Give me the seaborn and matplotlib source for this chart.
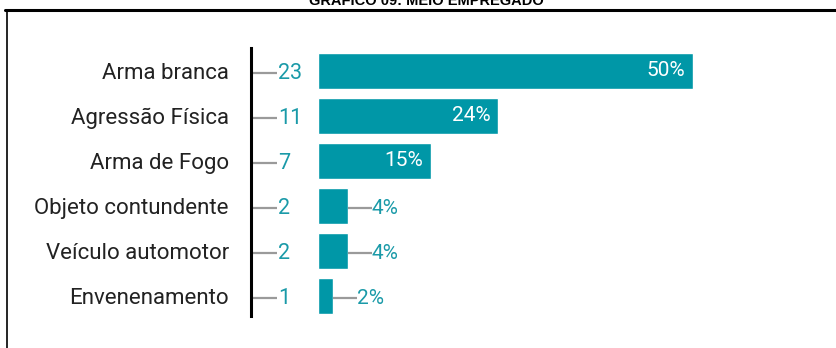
import matplotlib
matplotlib.use("Agg")
import matplotlib.pyplot as plt
from matplotlib import font_manager
from matplotlib.lines import Line2D
import seaborn as sns
import pandas as pd

categorias = ["Arma branca", "Agressão Física", "Arma de Fogo",
              "Objeto contundente", "Veículo automotor", "Envenenamento"]
quantidade = [23, 11, 7, 2, 2, 1]
percentual = [50, 24, 15, 4, 4, 2]
titulo = "GRÁFICO 09: MEIO EMPREGADO"

TEAL = "#0097A7"
TEAL_TXT = "#1A9AA8"
GREY = "#9A9A9A"

sns.set_theme(style="white")
plt.rcParams["font.family"] = ["Roboto", "DejaVu Sans"]

installed = {f.name for f in font_manager.fontManager.ttflist}
narrow = "Liberation Sans Narrow" in installed
title_family = "Liberation Sans Narrow" if narrow else "Liberation Sans"
title_size = 12.5 if narrow else 10.5

W, H = 836, 348
fig = plt.figure(figsize=(W / 100, H / 100), dpi=100)

# axes: left edge on the black axis line, bars start at x=0
px_per_unit = 7.5
ax_left_px, bar0_px = 251, 318
ax_top_px, ax_bot_px = 48, 316
ax = fig.add_axes([ax_left_px / W, 1 - ax_bot_px / H,
                   (W - ax_left_px) / W, (ax_bot_px - ax_top_px) / H])

df = pd.DataFrame({"categoria": categorias, "pct": percentual, "n": quantidade})
sns.barplot(data=df, y="categoria", x="pct", orient="h", color=TEAL,
            saturation=1, width=0.8, ax=ax)

xmin = -(bar0_px - ax_left_px) / px_per_unit
ax.set_xlim(xmin, xmin + (W - ax_left_px) / px_per_unit)
ax.set_ylim(5.45, -0.51)
ax.set_xlabel("")
ax.set_ylabel("")
ax.set_xticks([])
ax.set_yticks(range(len(categorias)))
ax.set_yticklabels(categorias, fontsize=16, color="#222222")
ax.tick_params(axis="y", length=0, pad=16)
for s in ["top", "right", "bottom"]:
    ax.spines[s].set_visible(False)
ax.spines["left"].set_color("black")
ax.spines["left"].set_linewidth(2.2)

tick_len = 26 / px_per_unit
for i, (n, p) in enumerate(zip(quantidade, percentual)):
    # connector from the axis line to the count
    ax.plot([xmin, xmin + tick_len], [i + 0.05, i + 0.05], color=GREY, lw=1.6,
            solid_capstyle="butt", clip_on=False)
    ax.text(xmin + tick_len + 0.1, i + 0.05, str(n), color=TEAL_TXT,
            fontsize=15.5, va="center", ha="left")
    if p >= 10:
        ax.text(p - 1.0, i, f"{p}%", color="white", fontsize=15,
                va="center", ha="right")
    else:
        lead = 24 / px_per_unit
        ax.plot([p, p + lead], [i + 0.05, i + 0.05], color=GREY, lw=1.6,
                solid_capstyle="butt")
        ax.text(p + lead, i + 0.05, f"{p}%", color=TEAL_TXT, fontsize=15,
                va="center", ha="left")

# frame: thick top rule and thin left rule
fig.add_artist(Line2D([5 / W, 1], [1 - 10 / H, 1 - 10 / H], color="black",
                      lw=2.2, transform=fig.transFigure))
fig.add_artist(Line2D([7 / W, 7 / W], [1 - 10 / H, 0], color="black",
                      lw=1.2, transform=fig.transFigure))

fig.text(426 / W, 1 - 5 / H, titulo, ha="center", va="baseline",
         fontsize=title_size, fontweight="bold", family=title_family,
         color="black")

fig.savefig("out.png", dpi=100, facecolor="white")
